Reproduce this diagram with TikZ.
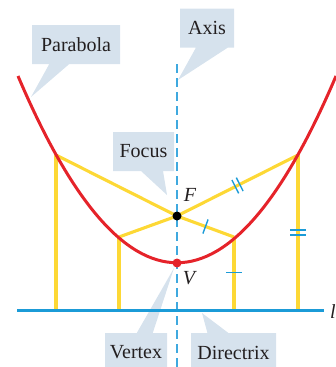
\documentclass[tikz,border=0pt]{standalone}
\usepackage{fontspec}
\setmainfont{Liberation Serif}
\usepackage{xcolor}
\usetikzlibrary{shapes.callouts,decorations.markings,calc}

\definecolor{parared}{HTML}{E5232A}
\definecolor{chordyellow}{HTML}{FDD835}
\definecolor{dirblue}{HTML}{1B9BD7}
\definecolor{axisblue}{HTML}{3FA9DF}
\definecolor{boxfill}{HTML}{D6E2ED}
\definecolor{inkblack}{HTML}{231F20}

\begin{document}
\begin{tikzpicture}[x=1pt,y=-1pt,
  namebox/.style={rectangle callout, fill=boxfill, text=inkblack,
    font=\fontsize{20}{23}\selectfont, inner xsep=3pt, minimum height=39pt,
    callout pointer width=22pt},
  chord/.style={draw=chordyellow, line width=3.1pt},
  ticksign/.style={draw=dirblue, line width=1.4pt},
  onetick/.style={postaction={decorate, decoration={markings,
    mark=at position 0.5 with {\draw[ticksign] (0,-7.5) -- (0,7.5);}}}},
  twotick/.style={postaction={decorate, decoration={markings,
    mark=at position 0.5 with {\draw[ticksign] (-2.5,-7.5) -- (-2.5,7.5) (2.5,-7.5) -- (2.5,7.5);}}}},
  letter/.style={text=inkblack, font=\fontsize{20}{23}\selectfont\itshape, inner sep=0pt}]

\clip (0,0) rectangle (336,367);

\coordinate (tipP) at (31,97);
\coordinate (tipA) at (178,80);
\coordinate (tipF) at (167,195);
\coordinate (tipV) at (174,268);
\coordinate (tipD) at (202,313);

\node[namebox, minimum width=88pt, callout pointer width=20pt, callout absolute pointer={(tipP)}] (parabola) at (76,44.5) {Parabola};
\node[namebox, minimum width=54pt, callout pointer width=32pt, callout absolute pointer={(tipA)}] (axis) at (207,28) {Axis};
\node[namebox, minimum width=61pt, callout absolute pointer={(tipF)}] (focus) at (143.5,151.5) {Focus};
\node[namebox, minimum width=62pt, callout pointer width=16pt, callout absolute pointer={(tipV)}] (vertex) at (136,352.5) {Vertex};
\node[namebox, minimum width=85pt, callout pointer width=21pt, callout absolute pointer={(tipD)}] (directrix) at (233.5,352.5) {Directrix};

\coordinate (F) at (177,216);
\coordinate (V) at (177,263);

\coordinate (P1) at (56,155);
\coordinate (P2) at (119,237);
\coordinate (P3) at (234,237);
\coordinate (P4) at (298,155);

\coordinate (Q1) at (56,310);
\coordinate (Q2) at (119,310);
\coordinate (Q3) at (234,310);
\coordinate (Q4) at (298,310);

\coordinate (L1) at (17,310);
\coordinate (L2) at (324,310);
\coordinate (A1) at (177,64);
\coordinate (A2) at (177,367);

\coordinate (E1) at (18,76);
\coordinate (E2) at (336,76);

\draw[chord] (P1) -- (Q1);
\draw[chord] (P2) -- (Q2);
\draw[chord] (P3) -- (Q3);
\draw[chord] (P4) -- (Q4);
\draw[chord] (P1) -- (F);
\draw[chord] (P2) -- (F);
\draw[chord, onetick] (F) -- (P3);
\draw[chord, twotick] (F) -- (P4);

\coordinate (M3) at ($(P3)!0.5!(Q3)$);
\coordinate (M4) at ($(P4)!0.5!(Q4)$);
\draw[ticksign] (M3) +(-8,-1) -- +(8,-1);
\draw[ticksign] (M4) +(-8,-2.5) -- +(8,-2.5) +(-8,2.5) -- +(8,2.5);

\draw[parared, line width=3pt] (E1) .. controls (124,325) and (230,325) .. (E2);

\draw[axisblue, line width=1.4pt, dash pattern=on 9pt off 5pt] (A1) -- (A2);
\draw[dirblue, line width=3pt] (L1) -- (L2);

\fill[black] (F) circle (4.5);
\fill[parared] (V) circle (4.5);

\node[letter] (labelF) at (190,195) {F};
\node[letter] (labelV) at (189,278) {V};
\node[letter, anchor=west] (labell) at (330,312) {l};

\end{tikzpicture}
\end{document}
